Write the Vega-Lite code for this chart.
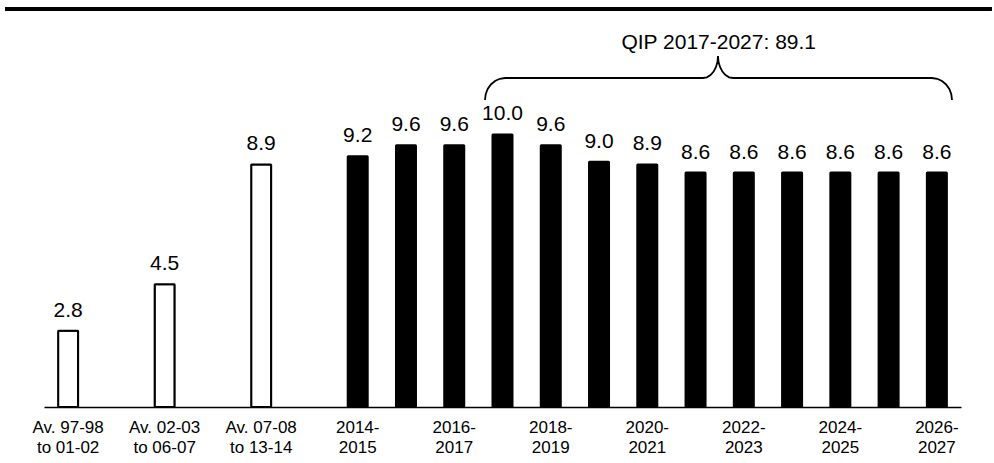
{
  "$schema": "https://vega.github.io/schema/vega-lite/v6.json",
  "width": 917,
  "height": 368,
  "autosize": {"type": "none"},
  "padding": {"left": 44, "top": 39, "right": 33, "bottom": 56},
  "config": {
    "view": {"stroke": null},
    "font": "Liberation Sans",
    "text": {"font": "Liberation Sans", "color": "black"}
  },
  "resolve": {"scale": {"x": "independent"}},
  "layer": [
    {
      "data": {
        "values": [
          {"period": "Av. 97-98 to 01-02", "value": 2.8, "kind": "historical"},
          {"period": "Av. 02-03 to 06-07", "value": 4.5, "kind": "historical"},
          {"period": "Av. 07-08 to 13-14", "value": 8.9, "kind": "historical"},
          {"period": "2014-2015", "value": 9.2, "kind": "plan"},
          {"period": "2015-2016", "value": 9.6, "kind": "plan"},
          {"period": "2016-2017", "value": 9.6, "kind": "plan"},
          {"period": "2017-2018", "value": 10.0, "kind": "plan"},
          {"period": "2018-2019", "value": 9.6, "kind": "plan"},
          {"period": "2019-2020", "value": 9.0, "kind": "plan"},
          {"period": "2020-2021", "value": 8.9, "kind": "plan"},
          {"period": "2021-2022", "value": 8.6, "kind": "plan"},
          {"period": "2022-2023", "value": 8.6, "kind": "plan"},
          {"period": "2023-2024", "value": 8.6, "kind": "plan"},
          {"period": "2024-2025", "value": 8.6, "kind": "plan"},
          {"period": "2025-2026", "value": 8.6, "kind": "plan"},
          {"period": "2026-2027", "value": 8.6, "kind": "plan"}
        ]
      },
      "encoding": {
        "x": {
          "field": "period",
          "type": "nominal",
          "sort": null,
          "scale": {
            "domain": ["Av. 97-98 to 01-02", "gap1", "Av. 02-03 to 06-07", "gap2", "Av. 07-08 to 13-14", "gap3",
                       "2014-2015", "2015-2016", "2016-2017", "2017-2018", "2018-2019", "2019-2020", "2020-2021",
                       "2021-2022", "2022-2023", "2023-2024", "2024-2025", "2025-2026", "2026-2027"],
            "paddingInner": 0.5856,
            "paddingOuter": 0.2928
          },
          "axis": {
            "title": null,
            "labelAngle": 0,
            "ticks": false,
            "domainColor": "black",
            "domainWidth": 1.5,
            "labelColor": "black",
            "labelFont": "Liberation Sans",
            "labelFontSize": 17,
            "labelLineHeight": 20,
            "labelPadding": 12,
            "labelOverlap": false,
            "labelExpr": "test(/^Av/, datum.value) ? [slice(datum.value, 0, 9), slice(datum.value, 10)] : ((test(/^gap/, datum.value) || parseInt(slice(datum.value, 0, 4)) % 2 == 1) ? '' : [slice(datum.value, 0, 5), slice(datum.value, 5)])"
          }
        },
        "y": {
          "field": "value",
          "type": "quantitative",
          "scale": {"domain": [0, 13.5], "nice": false, "zero": true},
          "axis": null
        }
      },
      "layer": [
        {
          "mark": {"type": "bar", "stroke": "black", "strokeWidth": 2, "cornerRadius": 0.5},
          "encoding": {
            "fill": {
              "field": "kind",
              "type": "nominal",
              "scale": {"domain": ["historical", "plan"], "range": ["white", "black"]},
              "legend": null
            }
          }
        },
        {
          "mark": {"type": "text", "fontSize": 21, "baseline": "alphabetic", "dy": -14, "color": "black"},
          "encoding": {
            "text": {"field": "value", "type": "quantitative", "format": ".1f"}
          }
        }
      ]
    },
    {
      "layer": [
        {
          "data": {
            "values": [
              {"bx": 8.637, "by": 11.262},
              {"bx": 8.652, "by": 11.471},
              {"bx": 8.693, "by": 11.665},
              {"bx": 8.760, "by": 11.833},
              {"bx": 8.845, "by": 11.961},
              {"bx": 8.944, "by": 12.041},
              {"bx": 9.052, "by": 12.069},
              {"bx": 13.154, "by": 12.069},
              {"bx": 13.235, "by": 12.096},
              {"bx": 13.310, "by": 12.177},
              {"bx": 13.374, "by": 12.305},
              {"bx": 13.424, "by": 12.472},
              {"bx": 13.455, "by": 12.667},
              {"bx": 13.465, "by": 12.876},
              {"bx": 13.475, "by": 12.667},
              {"bx": 13.507, "by": 12.472},
              {"bx": 13.556, "by": 12.305},
              {"bx": 13.621, "by": 12.177},
              {"bx": 13.695, "by": 12.096},
              {"bx": 13.776, "by": 12.069},
              {"bx": 17.899, "by": 12.069},
              {"bx": 18.007, "by": 12.041},
              {"bx": 18.106, "by": 11.961},
              {"bx": 18.191, "by": 11.833},
              {"bx": 18.258, "by": 11.665},
              {"bx": 18.299, "by": 11.471},
              {"bx": 18.314, "by": 11.262}
            ]
          },
          "mark": {"type": "line", "color": "black", "strokeWidth": 1.8, "interpolate": "linear"},
          "encoding": {
            "x": {"field": "bx", "type": "quantitative", "scale": {"domain": [-0.5, 18.5], "nice": false, "zero": false}, "axis": null},
            "y": {"field": "by", "type": "quantitative"}
          }
        },
        {
          "data": {"values": [{"note": "QIP 2017-2027: 89.1"}]},
          "mark": {"type": "text", "fontSize": 21, "baseline": "middle", "align": "center", "color": "black"},
          "encoding": {
            "x": {"datum": 13.48, "type": "quantitative", "scale": {"domain": [-0.5, 18.5], "nice": false, "zero": false}, "axis": null},
            "y": {"datum": 13.35, "type": "quantitative"},
            "text": {"field": "note", "type": "nominal"}
          }
        },
        {
          "data": {"values": [{}]},
          "mark": {"type": "rule", "color": "black", "strokeWidth": 4},
          "encoding": {
            "x": {"datum": -1.308, "type": "quantitative", "scale": {"domain": [-0.5, 18.5], "nice": false, "zero": false}, "axis": null},
            "x2": {"datum": 19.142},
            "y": {"datum": 14.6, "type": "quantitative"}
          }
        }
      ]
    }
  ]
}
